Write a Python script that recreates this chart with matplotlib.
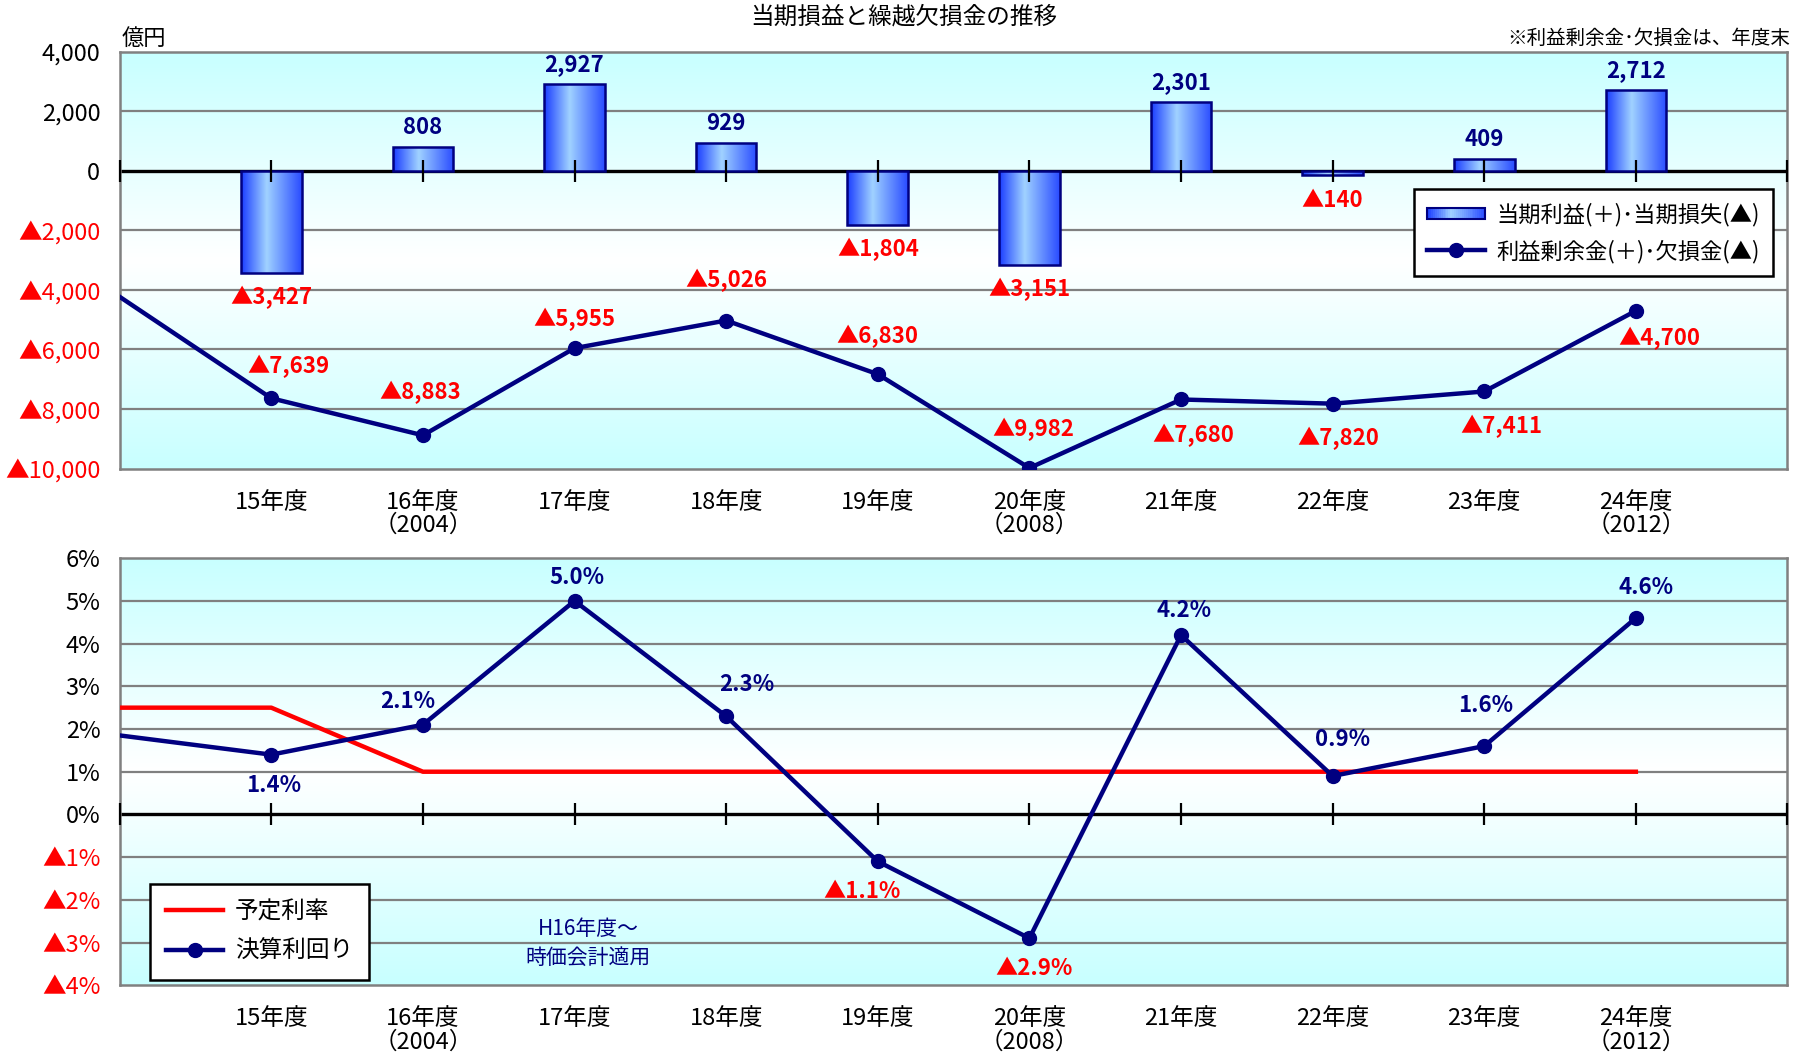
import numpy as np
import matplotlib
matplotlib.use("Agg")
import matplotlib.pyplot as plt
from matplotlib.colors import LinearSegmentedColormap
from matplotlib.patches import Rectangle
from matplotlib.lines import Line2D
from matplotlib.legend_handler import HandlerBase

plt.rcParams['font.family'] = ['Noto Sans CJK JP', 'DejaVu Sans']

# データ
years = ["15年度", "16年度", "17年度", "18年度", "19年度",
         "20年度", "21年度", "22年度", "23年度", "24年度"]
years_sub = ["", "（2004）", "", "", "", "（2008）", "", "", "", "（2012）"]

profit = [-3427, 808, 2927, 929, -1804, -3151, 2301, -140, 409, 2712]
surplus_prev = -4230          # 14年度末（左端）
surplus = [-7639, -8883, -5955, -5026, -6830, -9982, -7680, -7820, -7411, -4700]

yield_prev = 1.85             # 14年度（左端）
yields = [1.4, 2.1, 5.0, 2.3, -1.1, -2.9, 4.2, 0.9, 1.6, 4.6]
rate_prev = 2.5
rates = [2.5, 1.0, 1.0, 1.0, 1.0, 1.0, 1.0, 1.0, 1.0, 1.0]

# ラベル位置の微調整（points）
surplus_off = [(12, 23), (-2, 31), (0, 21), (0, 29), (0, 27),
               (3, 28), (9, -26), (4, -25), (12, -25), (17, -20)]
yield_off = [(2, -22), (-11, 17), (2, 17), (15, 23), (-11, -22),
             (3, -22), (2, 18), (7, 26), (1, 29), (7, 22)]

NAVY = "#000080"
RED = "#FF0000"
GRID = "#808080"

bar_cmap = LinearSegmentedColormap.from_list(
    "bar", [(0, "#1a3cff"), (0.42, "#a0d2ff"), (1, "#2a4cff")])
bg_cmap = LinearSegmentedColormap.from_list(
    "bg", [(0, "#c8ffff"), (0.5, "#ffffff"), (1, "#c8ffff")])

x = np.arange(1, len(years) + 1)
xlim = (0, len(years) + 1)


def fmt_yen(v):
    v = int(round(v))
    return ("▲{:,}".format(-v) if v < 0 else "{:,}".format(v))


def fmt_pct(v):
    return ("▲{:.1f}%".format(-v) if v < 0 else "{:.1f}%".format(v))


def setup_axes(ax, ylim, step, fmt):
    ax.set_xlim(*xlim)
    ax.set_ylim(*ylim)
    grad = np.linspace(0, 1, 256)[:, None]
    ax.imshow(grad, cmap=bg_cmap, extent=[xlim[0], xlim[1], ylim[0], ylim[1]],
              aspect="auto", zorder=0)
    ticks = np.arange(ylim[0], ylim[1] + step / 2, step)
    ax.set_yticks(ticks)
    ax.set_yticklabels([fmt(t) for t in ticks])
    for lab, t in zip(ax.get_yticklabels(), ticks):
        lab.set_color(RED if t < 0 else "black")
    for t in ticks:
        if t != 0 and t != ylim[0] and t != ylim[1]:
            ax.axhline(t, color=GRID, lw=1.6, zorder=1)
    ax.axhline(0, color="black", lw=2.4, zorder=2)
    # 0線上の目盛り
    ax.plot(np.arange(xlim[0], xlim[1] + 1), np.zeros(xlim[1] - xlim[0] + 1),
            ls="none", marker="|", ms=16, mew=1.6, color="black", zorder=4.5,
            clip_on=False)
    ax.set_xticks(x)
    ax.set_xticklabels([y + ("\n" + s if s else "") for y, s in zip(years, years_sub)],
                       va="top", linespacing=1.0)
    ax.tick_params(axis="x", length=0, pad=16, labelsize=17)
    ax.tick_params(axis="y", length=0, pad=14, labelsize=17)
    for sp in ax.spines.values():
        sp.set_color(GRID)
        sp.set_linewidth(1.8)


class GradHandler(HandlerBase):
    def create_artists(self, legend, orig_handle, xdescent, ydescent,
                       width, height, fontsize, trans):
        arts = []
        n = 30
        h = height * 0.7
        y0 = -ydescent + (height - h) / 2
        for k in range(n):
            r = Rectangle((-xdescent + width * k / n, y0), width / n + 0.3, h,
                          facecolor=bar_cmap((k + 0.5) / n), edgecolor="none",
                          transform=trans)
            arts.append(r)
        arts.append(Rectangle((-xdescent, y0), width, h, facecolor="none",
                              edgecolor=NAVY, lw=1.5, transform=trans))
        return arts


fig = plt.figure(figsize=(18.05, 10.56), dpi=100)
ax1 = fig.add_axes([0.0663, 0.5563, 0.924, 0.3946])
ax2 = fig.add_axes([0.0663, 0.0670, 0.924, 0.4044])

# 上段：当期損益と繰越欠損金
setup_axes(ax1, (-10000, 4000), 2000, fmt_yen)
bw = 0.4
bars = ax1.bar(x, profit, width=bw, color="none", edgecolor=NAVY, lw=1.8, zorder=4)
hgrad = np.linspace(0, 1, 128)[None, :]
for b in bars:
    bx, by = b.get_x(), b.get_y()
    im = ax1.imshow(hgrad, cmap=bar_cmap, aspect="auto", zorder=3,
                    extent=[bx, bx + b.get_width(), by, by + b.get_height()])
    im.set_clip_path(b)
for xi, v in zip(x, profit):
    ax1.annotate(fmt_yen(v), (xi, v), xytext=(0, 14 if v > 0 else -18),
                 textcoords="offset points", ha="center", va="center",
                 fontsize=16, fontweight="bold", color=NAVY if v > 0 else RED, zorder=6)

ax1.plot(np.r_[0, x], np.r_[surplus_prev, surplus], color=NAVY, lw=3.2,
         marker="o", ms=10, markevery=list(range(1, len(x) + 1)), zorder=5)
for xi, v, off in zip(x, surplus, surplus_off):
    ax1.annotate(fmt_yen(v), (xi, v), xytext=off, textcoords="offset points",
                 ha="center", va="center", fontsize=16, fontweight="bold",
                 color=RED if v < 0 else NAVY, zorder=6)

h_bar = Rectangle((0, 0), 1, 1)
h_line = Line2D([], [], color=NAVY, lw=3.2, marker="o", ms=10)
leg1 = ax1.legend([h_bar, h_line],
                  ["当期利益(＋)･当期損失(▲)", "利益剰余金(＋)･欠損金(▲)"],
                  handler_map={Rectangle: GradHandler()},
                  loc="upper left", bbox_to_anchor=(0.776, 0.671), borderaxespad=0,
                  fancybox=False, edgecolor="black", framealpha=1, fontsize=16,
                  handlelength=2.6, handletextpad=0.5, labelspacing=0.6, borderpad=0.6)
leg1.get_frame().set_linewidth(1.8)
leg1.set_zorder(7)

# 下段：予定利率と決算利回り
setup_axes(ax2, (-4, 6), 1, lambda t: ("▲{:.0f}%".format(-t) if t < 0 else "{:.0f}%".format(t)))
ax2.plot(np.r_[0, x], np.r_[rate_prev, rates], color=RED, lw=3.2, zorder=4)
ax2.plot(np.r_[0, x], np.r_[yield_prev, yields], color=NAVY, lw=3.2,
         marker="o", ms=10, markevery=list(range(1, len(x) + 1)), zorder=5)
for xi, v, off in zip(x, yields, yield_off):
    ax2.annotate(fmt_pct(v), (xi, v), xytext=off, textcoords="offset points",
                 ha="center", va="center", fontsize=16, fontweight="bold",
                 color=RED if v < 0 else NAVY, zorder=6)
ax2.text(3.09, -3.03, "H16年度～\n時価会計適用", ha="center", va="center",
         fontsize=15, color=NAVY, linespacing=1.4, zorder=6)

leg2 = ax2.legend([Line2D([], [], color=RED, lw=3.2),
                   Line2D([], [], color=NAVY, lw=3.2, marker="o", ms=10)],
                  ["予定利率", "決算利回り"],
                  loc="upper left", bbox_to_anchor=(0.018, 0.237), borderaxespad=0,
                  fancybox=False, edgecolor="black", framealpha=1, fontsize=17,
                  handlelength=2.4, handletextpad=0.5, labelspacing=0.7, borderpad=0.7)
leg2.get_frame().set_linewidth(1.8)
leg2.set_zorder(7)

fig.text(0.5006, 0.984, "当期損益と繰越欠損金の推移", ha="center", va="center", fontsize=17)
fig.text(0.0797, 0.964, "億円", ha="center", va="center", fontsize=16)
fig.text(0.9917, 0.964, "※利益剰余金･欠損金は、年度末", ha="right", va="center", fontsize=14)

fig.savefig("out.png", dpi=100)
